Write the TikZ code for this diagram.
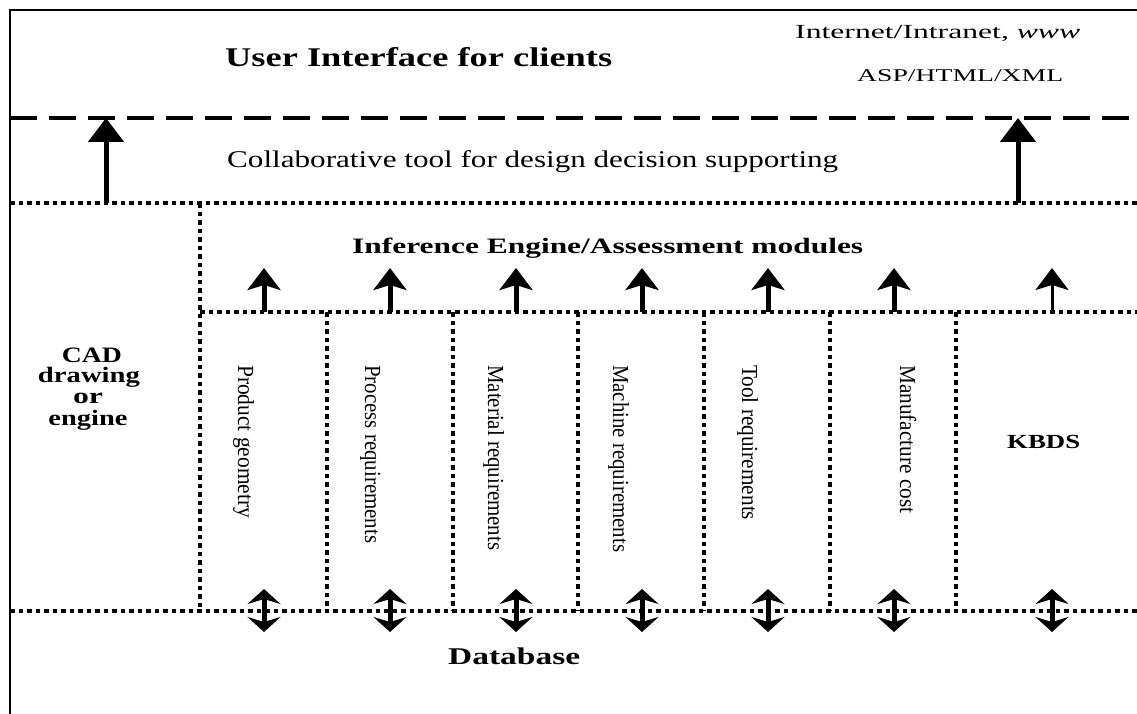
\documentclass[tikz,border=0pt]{standalone}
\usepackage{fontspec}
\setmainfont{Liberation Serif}
\usepackage{graphicx}
\usetikzlibrary{arrows.meta}
\newcommand\fitw[3]{\resizebox{#2pt}{\height}{\fontsize{#1}{#1}\selectfont #3}}
\begin{document}
\begin{tikzpicture}[x=1pt,y=-1pt,
  frame/.style={line width=2pt},
  dashsep/.style={line width=4.5pt, dash pattern=on 27pt off 12pt},
  dotsep/.style={line width=3.5pt, dash pattern=on 4.5pt off 4pt},
  bigup/.style={line width=5pt, -{Triangle[length=24pt,width=35pt]}},
  smallup/.style={line width=5pt, -{Stealth[length=22pt,width=33pt,inset=5pt]}},
  thinup/.style={line width=3pt, -{Stealth[length=22pt,width=33pt,inset=5pt]}},
  updown/.style={line width=5pt, {Stealth[length=15pt,width=33pt,inset=5pt]}-{Stealth[length=15pt,width=33pt,inset=5pt]}},
  lbl/.style={inner sep=0pt, anchor=base west},
  clbl/.style={inner sep=0pt, anchor=base},
  vlbl/.style={inner sep=0pt, anchor=base west, rotate=-90},
]
\useasboundingbox (0,0) rectangle (1137,714);
% frame
\coordinate (tl) at (10,10);
\coordinate (tr) at (1137,10);
\coordinate (bl) at (10,714);
\draw[frame] (bl) -- (tl) -- (tr);
% separators
\coordinate (da) at (10,118);
\coordinate (db) at (1137,118);
\draw[dashsep] (da) -- (db);
\coordinate (h1a) at (10,203);
\coordinate (h1b) at (1137,203);
\draw[dotsep] (h1a) -- (h1b);
\coordinate (h2a) at (200,312);
\coordinate (h2b) at (1137,312);
\draw[dotsep] (h2a) -- (h2b);
\coordinate (h3a) at (10,611);
\coordinate (h3b) at (1137,611);
\draw[dotsep] (h3a) -- (h3b);
\coordinate (v0a) at (200,203);
\coordinate (v0b) at (200,611);
\draw[dotsep] (v0a) -- (v0b);
\foreach \x [count=\i] in {327,453,578,704,830,956}{
  \coordinate (va\i) at (\x,312);
  \coordinate (vb\i) at (\x,611);
  \draw[dotsep] (va\i) -- (vb\i);
}
% big arrows
\coordinate (bu1a) at (106,203); \coordinate (bu1b) at (106,118);
\coordinate (bu2a) at (1018,203); \coordinate (bu2b) at (1018,118);
\draw[bigup] (bu1a) -- (bu1b);
\draw[bigup] (bu2a) -- (bu2b);
% small up arrows
\foreach \x [count=\i] in {264,390,516,642,768,894}{
  \coordinate (ua\i) at (\x,312);
  \coordinate (ub\i) at (\x,268);
  \draw[smallup] (ua\i) -- (ub\i);
}
\coordinate (ua7) at (1052,312);
\coordinate (ub7) at (1052,268);
\draw[thinup] (ua7) -- (ub7);
% double arrows
\foreach \x [count=\i] in {264,390,516,642,768,894,1052}{
  \coordinate (da\i) at (\x,632);
  \coordinate (db\i) at (\x,589);
  \draw[updown] (da\i) -- (db\i);
}
% texts
\node[lbl] (ui) at (225,66.5) {\fitw{27}{387}{\bfseries User Interface for clients}};
\node[lbl] (net) at (795,39) {\fitw{20}{285}{Internet/Intranet, \textit{www}}};
\node[lbl] (asp) at (857,82) {\fitw{18}{206}{ASP/HTML/XML}};
\node[lbl] (collab) at (227,168) {\fitw{24}{611}{Collaborative tool for design decision supporting}};
\node[lbl] (inf) at (352,253) {\fitw{22}{511}{\bfseries Inference Engine/Assessment modules}};
\node[clbl] (cad1) at (92,362) {\fitw{22}{60}{\bfseries CAD}};
\node[clbl] (cad2) at (89,382) {\fitw{22}{102}{\bfseries drawing}};
\node[clbl] (cad3) at (88,403) {\fitw{22}{30}{\bfseries or}};
\node[clbl] (cad4) at (88,425) {\fitw{22}{79}{\bfseries engine}};
\node[vlbl] (m1) at (238,365) {\fitw{23}{153}{Product geometry}};
\node[vlbl] (m2) at (365,365) {\fitw{23}{178}{Process requirements}};
\node[vlbl] (m3) at (488,365) {\fitw{23}{185}{Material requirements}};
\node[vlbl] (m4) at (613,365) {\fitw{23}{187}{Machine requirements}};
\node[vlbl] (m5) at (742,365) {\fitw{23}{155}{Tool requirements}};
\node[vlbl] (m6) at (900,365) {\fitw{23}{148}{Manufacture cost}};
\node[lbl] (kbds) at (1007,448) {\fitw{20}{73}{\bfseries KBDS}};
\node[lbl] (db) at (448,664) {\fitw{24}{132}{\bfseries Database}};
\end{tikzpicture}
\end{document}
